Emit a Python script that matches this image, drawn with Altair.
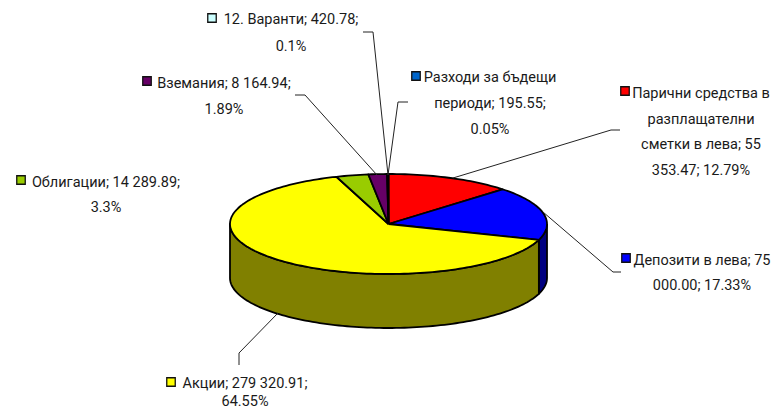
import math
import altair as alt
import pandas as pd

# ---- chart values
names = ["Парични средства в разплащателни сметки в лева", "Депозити в лева", "Акции",
         "Облигации", "Вземания", "12. Варанти", "Разходи за бъдещи периоди"]
values = [55353.47, 75000.00, 279320.91, 14289.89, 8164.94, 420.78, 195.55]
colors = ["#FF0000", "#0000FF", "#FFFF00", "#99CC00", "#660066", "#CCFFFF", "#0066CC"]
wall_colors = ["#800000", "#000080", "#808000", "#4D6600", "#330033", "#668080", "#003366"]

label_lines = [
    ["Парични средства в", "разплащателни", "сметки в лева; 55", "353.47; 12.79%"],
    ["Депозити в лева; 75", "000.00; 17.33%"],
    ["Акции; 279 320.91;", "64.55%"],
    ["Облигации; 14 289.89;", "3.3%"],
    ["Вземания; 8 164.94;", "1.89%"],
    ["12. Варанти; 420.78;", "0.1%"],
    ["Разходи за бъдещи", "периоди; 195.55;", "0.05%"],
]

# ---- layout (page pixels)
CX, CY, RX, RY, DEPTH = 388.5, 224.0, 158.5, 50.0, 54.0
label_centers = [701, 702, 245, 106, 224, 291, 490]
label_tops = [94, 261, 384, 183, 84, 20, 78]
line_gap = [25.5, 25, 18, 25, 26, 27, 26]
marker_pos = [(625, 91), (626, 258), (171, 382), (21, 180), (147, 81), (212, 18), (416, 76)]
leaders = [
    [(620, 130), (611, 130), (453, 178)],
    [(621, 272), (613, 272), (543, 212)],
    [(239, 365), (239, 353), (278, 313)],
    [(295, 95), (305, 95), (377, 175)],
    [(363, 32), (373, 32), (388, 175)],
    [(408, 102), (398, 102), (388, 175)],
]

total = sum(values)


def pt(deg, drop=0.0):
    a = math.radians(deg)
    return CX + RX * math.sin(a), CY - RY * math.cos(a) + drop


def arc(a0, a1, drop=0.0):
    n = max(2, int(abs(a1 - a0) / 1.5) + 2)
    return [pt(a0 + (a1 - a0) * i / (n - 1), drop) for i in range(n)]


edges = [0.0]
for v in values:
    edges.append(edges[-1] + v / total * 360)

xs = alt.Scale(domain=[8, 772], range=[0, 764])
ys = alt.Scale(domain=[8, 411], range=[0, 403])
X = alt.X("x:Q", scale=xs, axis=None)
Y = alt.Y("y:Q", scale=ys, axis=None)


def poly(points, fill):
    pts = points + [points[0]]
    df = pd.DataFrame({"x": [p[0] for p in pts], "y": [p[1] for p in pts], "i": range(len(pts))})
    return alt.Chart(df).mark_line(fill=fill, stroke="black", strokeWidth=1.8, strokeJoin="round").encode(
        x=X, y=Y, order="i:Q")


layers = []
# visible walls: front half of the disc, 90..270 degrees
for i in range(len(values)):
    a0, a1 = max(edges[i], 90), min(edges[i + 1], 270)
    if a1 > a0:
        layers.append(poly(arc(a0, a1) + arc(a1, a0, DEPTH), wall_colors[i]))
# top faces
for i in range(len(values)):
    layers.append(poly([(CX, CY)] + arc(edges[i], edges[i + 1]), colors[i]))

# leader lines
for k, pts in enumerate(leaders):
    df = pd.DataFrame({"x": [p[0] for p in pts], "y": [p[1] for p in pts], "i": range(len(pts))})
    layers.append(alt.Chart(df).mark_line(color="#222222", strokeWidth=1).encode(x=X, y=Y, order="i:Q"))

# label text
rows = []
for i, lines in enumerate(label_lines):
    for j, t in enumerate(lines):
        rows.append({"x": label_centers[i], "y": label_tops[i] + j * line_gap[i], "t": t})
layers.append(alt.Chart(pd.DataFrame(rows)).mark_text(
    font="Roboto", fontSize=14.5, color="#1a1a1a", align="center", baseline="middle"
).encode(x=X, y=Y, text="t:N"))

# key markers
mk = pd.DataFrame({"x": [m[0] for m in marker_pos], "y": [m[1] for m in marker_pos], "name": names})
layers.append(alt.Chart(mk).mark_square(size=72, opacity=1, stroke="#111111", strokeWidth=1.3).encode(
    x=X, y=Y,
    fill=alt.Fill("name:N", scale=alt.Scale(domain=names, range=colors), legend=None)))

chart = alt.layer(*layers).properties(
    width=764, height=403, padding=0,
    autosize=alt.AutoSizeParams(type="none"),
    background="white",
).configure_view(stroke=None)

chart.save("out.html", embed_options={"renderer": "svg", "actions": False})
